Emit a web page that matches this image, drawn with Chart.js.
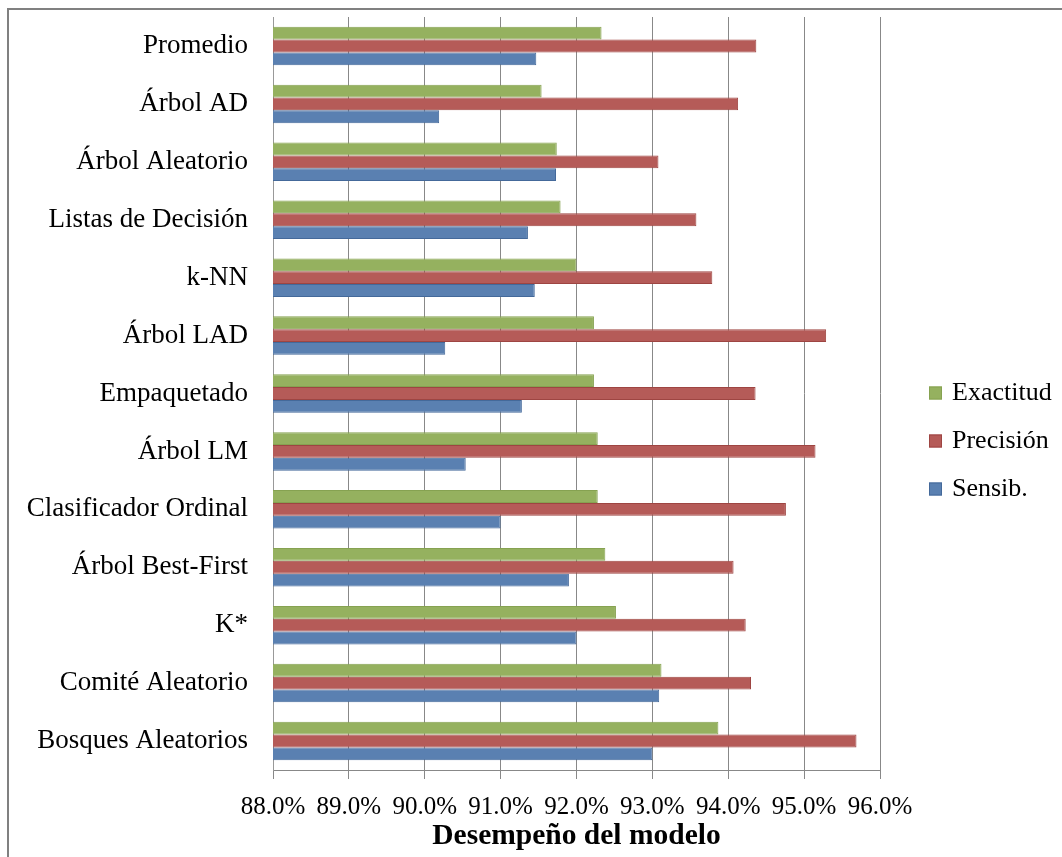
<!DOCTYPE html>
<html>
<head>
<meta charset="utf-8">
<script src="https://cdn.jsdelivr.net/npm/chart.js@4.4.0/dist/chart.umd.min.js"></script>
<style>
  html, body { margin: 0; padding: 0; background: #ffffff; overflow: hidden; }
  #frame { position: absolute; left: 7px; top: 8px; width: 1100px; height: 900px; border: 2px solid #808080; }
  #wrap { position: absolute; left: 0; top: 0; width: 1062px; height: 857px; }
</style>
</head>
<body>
<div id="frame"></div>
<div id="wrap"><canvas id="c" width="1062" height="857"></canvas></div>
<script>
// Classifier names, top to bottom
const categories = [
  'Promedio', 'Árbol AD', 'Árbol Aleatorio', 'Listas de Decisión', 'k-NN',
  'Árbol LAD', 'Empaquetado', 'Árbol LM', 'Clasificador Ordinal',
  'Árbol Best-First', 'K*', 'Comité Aleatorio', 'Bosques Aleatorios'
];

// Performance per classifier (%)
const exactitud = [92.33, 91.54, 91.74, 91.79, 92.00, 92.23, 92.23, 92.28, 92.28, 92.38, 92.52, 93.12, 93.87];
const precision = [94.37, 94.13, 93.08, 93.58, 93.79, 95.29, 94.36, 95.15, 94.76, 94.07, 94.23, 94.30, 95.69];
const sensib    = [91.47, 90.19, 91.73, 91.36, 91.45, 90.27, 91.28, 90.54, 91.00, 91.90, 92.00, 93.09, 93.00];

// Axis range and tick labels
const xTicks = [88, 89, 90, 91, 92, 93, 94, 95, 96];
const xTickLabels = ['88.0%', '89.0%', '90.0%', '91.0%', '92.0%', '93.0%', '94.0%', '95.0%', '96.0%'];

const seriesNames = ['Exactitud', 'Precisión', 'Sensib.'];
const fillColors = ['#95b15f', '#b55b58', '#5a80b1'];
const edgeColors = ['#86a251', '#9e4542', '#44699a'];

const serif = '"Liberation Serif", "Times New Roman", serif';

// Legend drawn to the right of the plot, one swatch per dataset
const sideLegend = {
  id: 'sideLegend',
  afterDraw(chart, args, opts) {
    const ctx = chart.ctx;
    ctx.save();
    ctx.font = opts.size + 'px ' + serif;
    ctx.textBaseline = 'middle';
    ctx.textAlign = 'left';
    chart.data.datasets.forEach((ds, i) => {
      const cy = opts.y + i * opts.step;
      ctx.fillStyle = ds.backgroundColor;
      ctx.fillRect(opts.x, cy - opts.box / 2, opts.box, opts.box);
      ctx.strokeStyle = ds.borderColor;
      ctx.lineWidth = 1;
      ctx.strokeRect(opts.x + 0.5, cy - opts.box / 2 + 0.5, opts.box - 1, opts.box - 1);
      ctx.fillStyle = '#000000';
      ctx.fillText(ds.label, opts.x + opts.box + 10, cy);
    });
    ctx.restore();
  }
};

const seriesValues = [exactitud, precision, sensib];

new Chart(document.getElementById('c'), {
  type: 'bar',
  data: {
    labels: categories,
    datasets: seriesNames.map((name, i) => ({
      label: name,
      data: seriesValues[i],
      backgroundColor: fillColors[i],
      borderColor: edgeColors[i],
      borderWidth: 1,
      borderSkipped: 'start',
      categoryPercentage: 0.665,
      barPercentage: 1.0
    }))
  },
  plugins: [sideLegend],
  options: {
    indexAxis: 'y',
    responsive: false,
    animation: false,
    layout: { padding: { left: 0, right: 182, top: 17, bottom: 0 } },
    plugins: {
      legend: { display: false },
      tooltip: { enabled: false },
      sideLegend: { x: 929, y: 393, step: 48, box: 13, size: 26 }
    },
    scales: {
      x: {
        type: 'linear',
        min: xTicks[0],
        max: xTicks[xTicks.length - 1],
        afterBuildTicks(scale) { scale.ticks = xTicks.map(v => ({ value: v })); },
        afterFit(scale) { scale.height = 87; },
        ticks: {
          color: '#000000',
          padding: 13,
          font: { family: serif, size: 25 },
          callback: (v) => xTickLabels[xTicks.indexOf(v)]
        },
        grid: { color: '#888888', lineWidth: 1, tickLength: 9, drawTicks: true },
        border: { display: true, color: '#888888', width: 1 },
        title: {
          display: true,
          text: 'Desempeño del modelo',
          color: '#000000',
          font: { family: serif, size: 29.5, weight: 'bold' },
          padding: { top: 0, bottom: 3 }
        }
      },
      y: {
        type: 'category',
        afterFit(scale) {
          scale.width = 273;
          scale.paddingTop = 0;
          scale.paddingBottom = 0;
        },
        ticks: {
          color: '#000000',
          padding: 25,
          font: { family: serif, size: 27 }
        },
        grid: { display: false, drawTicks: false },
        border: { display: true, color: '#999999', width: 1 }
      }
    }
  }
});
</script>
</body>
</html>
